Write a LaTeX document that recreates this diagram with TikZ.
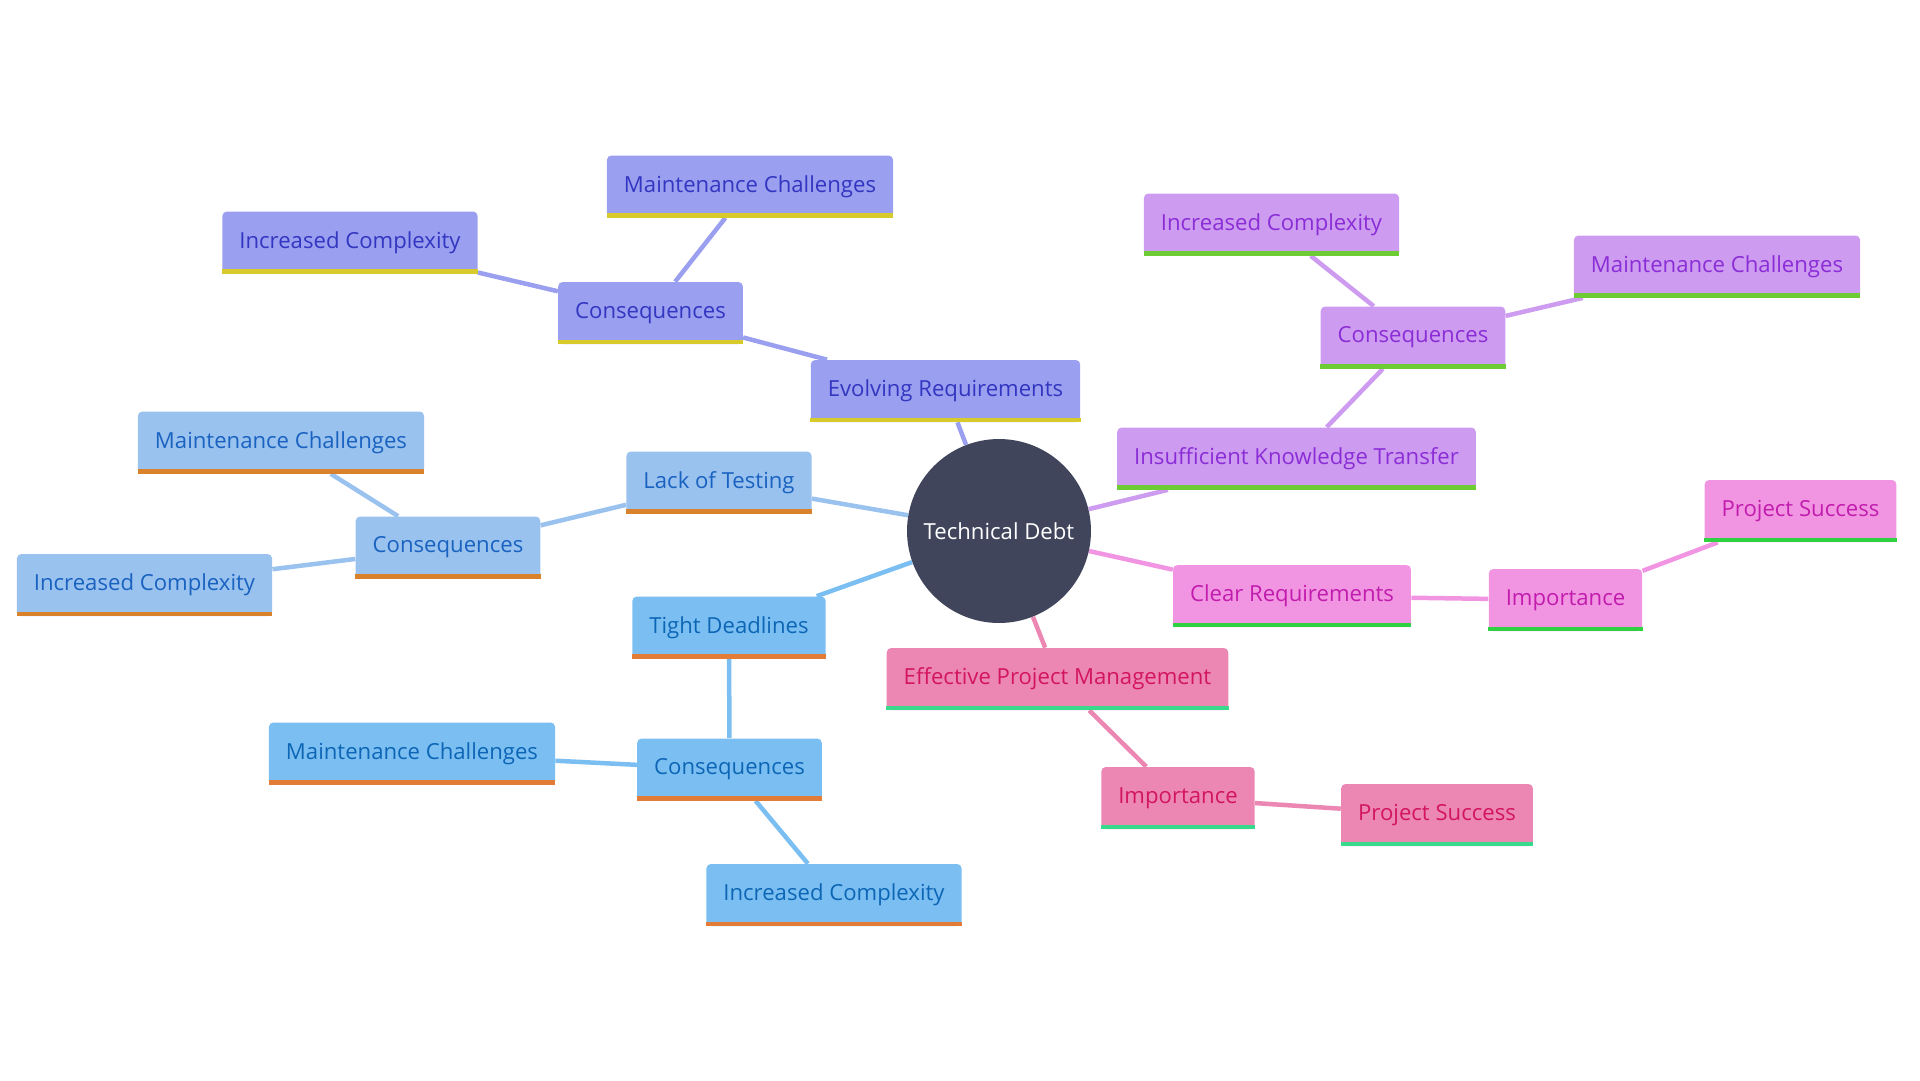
\documentclass[tikz,border=0pt]{standalone}
\usepackage{fontspec}
\setmainfont{Open Sans}
\usetikzlibrary{backgrounds}
\definecolor{rootfill}{HTML}{41455C}
\definecolor{evofill}{HTML}{9A9FF0}
\definecolor{evotext}{HTML}{3236C0}
\definecolor{evobar}{HTML}{D6CB2A}
\definecolor{testfill}{HTML}{99C2EF}
\definecolor{testtext}{HTML}{1A62C0}
\definecolor{testbar}{HTML}{D9822B}
\definecolor{deadfill}{HTML}{7BBFF2}
\definecolor{deadtext}{HTML}{0D66B5}
\definecolor{deadbar}{HTML}{E27C36}
\definecolor{epmfill}{HTML}{EC87B4}
\definecolor{epmtext}{HTML}{D2155E}
\definecolor{epmbar}{HTML}{38D98B}
\definecolor{clearfill}{HTML}{F195E2}
\definecolor{cleartext}{HTML}{C11CAD}
\definecolor{clearbar}{HTML}{2ED13F}
\definecolor{iktfill}{HTML}{CD9BF0}
\definecolor{ikttext}{HTML}{8B2DD6}
\definecolor{iktbar}{HTML}{6DCC33}
\tikzset{
  topic/.style={rectangle, rounded corners=2.5pt, font=\fontsize{12.6}{14}\selectfont, inner xsep=0.34cm, minimum height=1.24cm},
  evo/.style={topic, fill=evofill, text=evotext},
  tst/.style={topic, fill=testfill, text=testtext},
  ddl/.style={topic, fill=deadfill, text=deadtext},
  epm/.style={topic, fill=epmfill, text=epmtext},
  clr/.style={topic, fill=clearfill, text=cleartext},
  ikt/.style={topic, fill=iktfill, text=ikttext},
  hub/.style={circle, fill=rootfill, text=white, minimum size=3.68cm, inner sep=0pt, font=\fontsize{12.6}{14}\selectfont},
  link/.style={line width=0.09cm}
}
\begin{document}
\begin{tikzpicture}[x=0.02cm, y=-0.02cm]
    \useasboundingbox (0,0) rectangle (1920,1080);
    \node[hub] (root) at (999,531) {Technical Debt};

    \node[evo] (evo) at (945.5,391) {Evolving Requirements};
    \node[evo] (evoCons) at (650.5,313) {Consequences};
    \node[evo] (evoMaint) at (750,186.5) {Maintenance Challenges};
    \node[evo] (evoCompl) at (350,242.5) {Increased Complexity};

    \node[tst] (test) at (719,482.5) {Lack of Testing};
    \node[tst] (testCons) at (448,547.5) {Consequences};
    \node[tst] (testMaint) at (281,442.5) {Maintenance Challenges};
    \node[tst] (testCompl) at (144.5,585) {Increased Complexity};

    \node[ddl] (dead) at (729,627.5) {Tight Deadlines};
    \node[ddl] (deadCons) at (729.5,769.5) {Consequences};
    \node[ddl] (deadMaint) at (412,753.5) {Maintenance Challenges};
    \node[ddl] (deadCompl) at (834,895) {Increased Complexity};

    \node[epm] (epm) at (1057.5,679) {Effective Project Management};
    \node[epm] (epmImp) at (1178,798) {Importance};
    \node[epm] (epmSucc) at (1437,815) {Project Success};

    \node[clr] (clear) at (1292,596) {Clear Requirements};
    \node[clr] (clearImp) at (1565.5,600) {Importance};
    \node[clr] (clearSucc) at (1800.5,511) {Project Success};

    \node[ikt] (ikt) at (1296.5,458.5) {Insufficient Knowledge Transfer};
    \node[ikt] (iktCons) at (1413,337.5) {Consequences};
    \node[ikt] (iktCompl) at (1271.5,224.5) {Increased Complexity};
    \node[ikt] (iktMaint) at (1717,266.5) {Maintenance Challenges};

    \foreach \n/\c in {evo/evobar, evoCons/evobar, evoMaint/evobar, evoCompl/evobar,
      test/testbar, testCons/testbar, testMaint/testbar, testCompl/testbar,
      dead/deadbar, deadCons/deadbar, deadMaint/deadbar, deadCompl/deadbar,
      epm/epmbar, epmImp/epmbar, epmSucc/epmbar,
      clear/clearbar, clearImp/clearbar, clearSucc/clearbar,
      ikt/iktbar, iktCons/iktbar, iktCompl/iktbar, iktMaint/iktbar}
      \fill[\c] ([yshift=0.09cm]\n.south west) rectangle (\n.south east);

    \begin{scope}[on background layer]
      \draw[link, evofill] (root) -- (evo) -- (evoCons) -- (evoMaint);
      \draw[link, evofill] (evoCons) -- (evoCompl);
      \draw[link, testfill] (root) -- (test) -- (testCons) -- (testMaint);
      \draw[link, testfill] (testCons) -- (testCompl);
      \draw[link, deadfill] (root) -- (dead) -- (deadCons) -- (deadMaint);
      \draw[link, deadfill] (deadCons) -- (deadCompl);
      \draw[link, epmfill] (root) -- (epm) -- (epmImp) -- (epmSucc);
      \draw[link, clearfill] (root) -- (clear) -- (clearImp) -- (clearSucc);
      \draw[link, iktfill] (root) -- (ikt) -- (iktCons) -- (iktCompl);
      \draw[link, iktfill] (iktCons) -- (iktMaint);
    \end{scope}
  \end{tikzpicture}
\end{document}
